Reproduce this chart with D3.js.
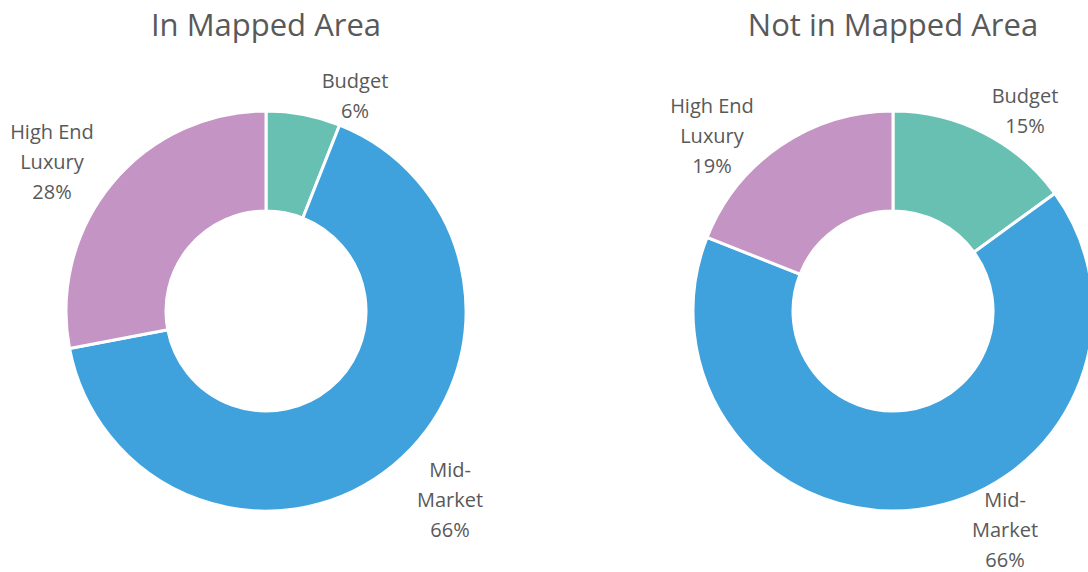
<!DOCTYPE html>
<html><head><meta charset="utf-8">
<script src="https://cdn.jsdelivr.net/npm/d3@7"></script>
<style>body{margin:0;background:#fff}svg{display:block}</style>
</head><body>
<script>
const categories = ["Budget", "Mid-Market", "High End Luxury"];
const labelLines = [["Budget"], ["Mid-", "Market"], ["High End", "Luxury"]];
const titles = ["In Mapped Area", "Not in Mapped Area"];
const inMapped = [6, 66, 28];
const notInMapped = [15, 66, 19];
const colors = ["#68C0B3", "#3FA2DD", "#C495C4"];

// layout
const W = 1088, H = 572;
const charts = [
  {title: titles[0], values: inMapped, cx: 266, cy: 311,
   labelPos: [[355, 80], [450, 469], [52, 131]]},
  {title: titles[1], values: notInMapped, cx: 893, cy: 311,
   labelPos: [[1025, 95], [1005, 499], [712, 105]]}
];
const outerR = 200, innerR = 100;

const svg = d3.select("body").append("svg").attr("width", W).attr("height", H);
const pie = d3.pie().sort(null).value(d => d);
const arc = d3.arc().innerRadius(innerR).outerRadius(outerR);
const font = "'Open Sans', sans-serif";

charts.forEach(c => {
  const g = svg.append("g").attr("transform", `translate(${c.cx},${c.cy})`);
  g.selectAll("path").data(pie(c.values)).join("path")
    .attr("d", arc)
    .attr("fill", (d, i) => colors[i])
    .attr("stroke", "#fff").attr("stroke-width", 3).attr("stroke-linejoin", "miter");

  svg.append("text").attr("x", c.cx).attr("y", 24)
    .attr("text-anchor", "middle").attr("dominant-baseline", "central")
    .attr("font-family", font).attr("font-size", 31).attr("fill", "#595959")
    .text(c.title);

  c.values.forEach((v, i) => {
    const lines = labelLines[i].concat([v + "%"]);
    const t = svg.append("text").attr("text-anchor", "middle")
      .attr("font-family", font).attr("font-size", 20).attr("fill", "#595959");
    lines.forEach((ln, k) => {
      t.append("tspan").attr("x", c.labelPos[i][0]).attr("y", c.labelPos[i][1] + k * 30)
        .attr("dominant-baseline", "central").text(ln);
    });
  });
});
</script>
</body></html>
